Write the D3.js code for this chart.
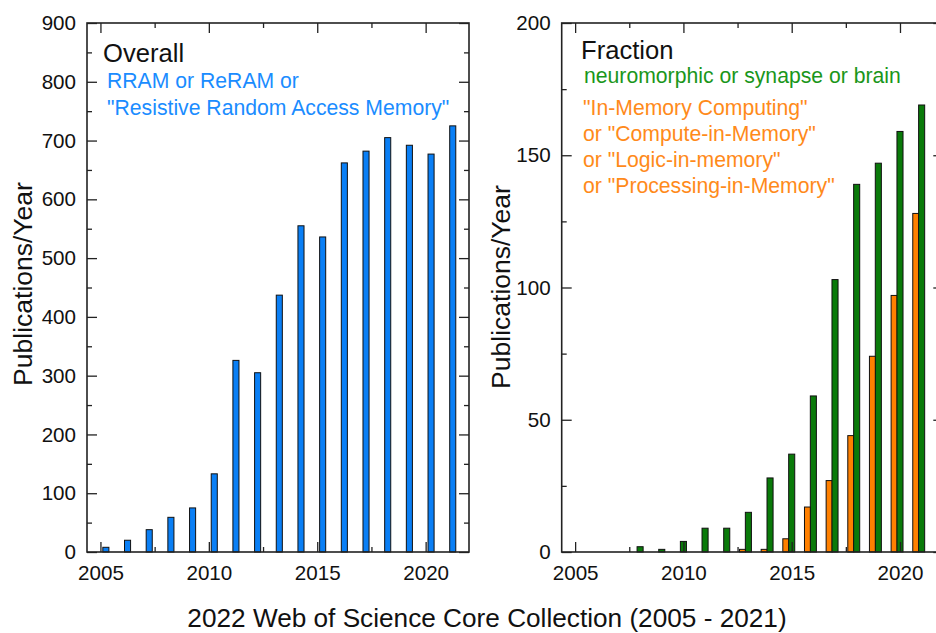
<!DOCTYPE html>
<html>
<head>
<meta charset="utf-8">
<script src="https://cdn.jsdelivr.net/npm/d3@7"></script>
<style>
  html, body { margin: 0; padding: 0; background: #fff; }
  svg { display: block; font-family: "Liberation Sans", Arial, sans-serif; }
  .tick text { font-size: 20.6px; fill: #111; }
  .tick line { stroke: #222; stroke-width: 1.3; }
</style>
</head>
<body>
<svg id="chart" width="936" height="633"></svg>
<script>
// years covered by the Web of Science query
const years = d3.range(2005, 2022);

// overall RRAM publications per year
const overall = [8, 20, 38, 59, 75, 133, 326, 305, 437, 555, 536, 662, 682, 705, 692, 677, 725];

// neuromorphic / synapse / brain subset
const neuro = [0, 0, 0, 2, 1, 4, 9, 9, 15, 28, 37, 59, 103, 139, 147, 159, 169];

// in-memory computing subset
const imc = [0, 0, 0, 0, 0, 0, 0, 0, 1, 1, 5, 17, 27, 44, 74, 97, 128];

const yearTicks = [2005, 2010, 2015, 2020];
const yearMinor = [2007.5, 2012.5, 2017.5];

const svg = d3.select("#chart");

const plotTop = 23, plotBottom = 552;
const xDomain = [2004.38, 2022.0];

// bar width and group offsets, in years
const BW = 0.28;
const OFF_ORANGE = -0.27, OFF_GREEN = 0, OFF_BLUE = 0.25;

function drawPanel(opts) {
  const { x0, x1, yMax, yMajor, yMinorStep, series, labelX, labelY } = opts;
  const x = d3.scaleLinear().domain(xDomain).range([x0, x1]);
  const y = d3.scaleLinear().domain([0, yMax]).range([plotBottom, plotTop]);
  const g = svg.append("g");

  // bars
  const pxW = x(2005 + BW) - x(2005);
  series.forEach(s => {
    g.append("g").selectAll("rect")
      .data(years.map((yr, i) => ({ yr, v: s.values[i] })).filter(d => d.v > 0))
      .enter().append("rect")
      .attr("x", d => x(d.yr + s.offset) - pxW / 2)
      .attr("y", d => y(d.v))
      .attr("width", pxW)
      .attr("height", d => y(0) - y(d.v))
      .attr("fill", s.color)
      .attr("stroke", "#111")
      .attr("stroke-width", 1);
  });

  const majorY = d3.range(0, yMax + 0.001, yMajor);
  const minorY = d3.range(yMinorStep, yMax, yMajor);

  // left axis with labels, ticks inward
  g.append("g").attr("transform", `translate(${x0},0)`)
    .call(d3.axisLeft(y).tickValues(majorY).tickSize(-10).tickPadding(11).tickFormat(d3.format("d")))
    .call(a => a.select(".domain").remove());
  g.append("g").attr("transform", `translate(${x0},0)`)
    .call(d3.axisLeft(y).tickValues(minorY).tickSize(-5).tickFormat(""))
    .call(a => a.select(".domain").remove());
  // right axis
  g.append("g").attr("transform", `translate(${x1},0)`)
    .call(d3.axisRight(y).tickValues(majorY).tickSize(-10).tickFormat(""))
    .call(a => a.select(".domain").remove());
  g.append("g").attr("transform", `translate(${x1},0)`)
    .call(d3.axisRight(y).tickValues(minorY).tickSize(-5).tickFormat(""))
    .call(a => a.select(".domain").remove());
  // bottom axis
  g.append("g").attr("transform", `translate(0,${plotBottom})`)
    .call(d3.axisBottom(x).tickValues(yearTicks).tickSize(-10).tickPadding(13).tickFormat(d3.format("d")))
    .call(a => a.select(".domain").remove());
  g.append("g").attr("transform", `translate(0,${plotBottom})`)
    .call(d3.axisBottom(x).tickValues(yearMinor).tickSize(-5).tickFormat(""))
    .call(a => a.select(".domain").remove());
  // top axis
  g.append("g").attr("transform", `translate(0,${plotTop})`)
    .call(d3.axisTop(x).tickValues(yearTicks).tickSize(-10).tickFormat(""))
    .call(a => a.select(".domain").remove());
  g.append("g").attr("transform", `translate(0,${plotTop})`)
    .call(d3.axisTop(x).tickValues(yearMinor).tickSize(-5).tickFormat(""))
    .call(a => a.select(".domain").remove());

  // frame
  g.append("rect")
    .attr("x", x0).attr("y", plotTop)
    .attr("width", x1 - x0).attr("height", plotBottom - plotTop)
    .attr("fill", "none").attr("stroke", "#222").attr("stroke-width", 1.6);

  // y label
  g.append("text")
    .attr("transform", `translate(${labelX},${labelY}) rotate(-90)`)
    .attr("text-anchor", "middle")
    .attr("font-size", 26.5)
    .attr("fill", "#111")
    .text("Publications/Year");

  return g;
}

const leftPanel = drawPanel({
  x0: 87, x1: 469, yMax: 900, yMajor: 100, yMinorStep: 50, labelX: 32, labelY: 284,
  series: [{ values: overall, color: "#0a7ff5", offset: OFF_BLUE }]
});

const rightPanel = drawPanel({
  x0: 561.7, x1: 943.3, yMax: 200, yMajor: 50, yMinorStep: 25, labelX: 510, labelY: 287,
  series: [
    { values: imc, color: "#ff8000", offset: OFF_ORANGE },
    { values: neuro, color: "#0a7a0a", offset: OFF_GREEN }
  ]
});

// panel annotations
function note(g, x, y, size, color, str) {
  g.append("text").attr("x", x).attr("y", y)
    .attr("font-size", size).attr("fill", color).text(str);
}

note(leftPanel, 103, 62, 25.6, "#111", "Overall");
note(leftPanel, 107, 88, 21.2, "#1a8cff", "RRAM or ReRAM or");
note(leftPanel, 107, 115, 21.2, "#1a8cff", "\"Resistive Random Access Memory\"");

note(rightPanel, 581, 58.5, 25.6, "#111", "Fraction");
note(rightPanel, 584, 83, 21.2, "#1a961a", "neuromorphic or synapse or brain");
const imcLines = ["\"In-Memory Computing\"", "or \"Compute-in-Memory\"", "or \"Logic-in-memory\"", "or \"Processing-in-Memory\""];
imcLines.forEach((s, i) => note(rightPanel, 583, 115 + i * 26, 21.2, "#ff8a1a", s));

// shared caption
svg.append("text")
  .attr("x", 487).attr("y", 627)
  .attr("text-anchor", "middle")
  .attr("font-size", 26.2)
  .attr("fill", "#111")
  .text("2022 Web of Science Core Collection (2005 - 2021)");
</script>
</body>
</html>
